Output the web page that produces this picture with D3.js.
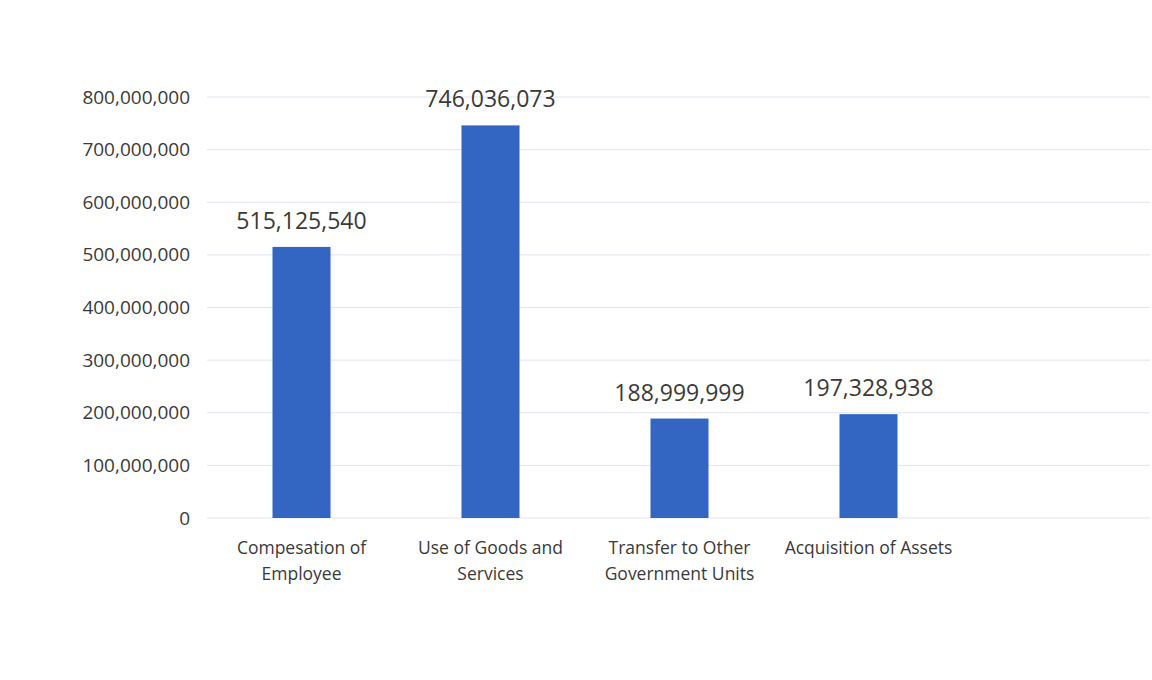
<!DOCTYPE html>
<html>
<head>
<meta charset="utf-8">
<script src="https://cdn.jsdelivr.net/npm/d3@7"></script>
<style>
  body { margin: 0; background: #fff; }
  text { font-family: "Open Sans", sans-serif; fill: #3a3a3a; }
</style>
</head>
<body>
<script>
// chart data
var categories = [
    ["Compesation of", "Employee"],
    ["Use of Goods and", "Services"],
    ["Transfer to Other", "Government Units"],
    ["Acquisition of Assets"]
];
var values = [515125540, 746036073, 188999999, 197328938];
var yTicks = [0, 100000000, 200000000, 300000000, 400000000, 500000000, 600000000, 700000000, 800000000];

var W = 1152, H = 680;
var svg = d3.select('body').append('svg')
    .attr('width', W)
    .attr('height', H);

var plotLeft = 207, plotBottom = 518, plotTop = 97;

var keys = categories.map(function (c, i) { return 'c' + i; });
var x = d3.scaleBand()
    .domain(keys)
    .range([plotLeft, plotLeft + 189 * keys.length])
    .paddingInner(0.693)
    .paddingOuter(0.3465);

var y = d3.scaleLinear()
    .domain([0, 800000000])
    .range([plotBottom, plotTop]);

var fmt = d3.format(',');

// gridlines
svg.append('g').selectAll('line')
    .data(yTicks)
    .enter()
    .append('line')
    .attr('x1', plotLeft)
    .attr('x2', 1150)
    .attr('y1', function (d) { return y(d); })
    .attr('y2', function (d) { return y(d); })
    .attr('stroke', '#e3e3ee')
    .attr('stroke-width', 1);

// y axis labels
var yAxis = d3.axisLeft(y).tickValues(yTicks).tickFormat(fmt).tickSize(0).tickPadding(0);
var ag = svg.append('g')
    .attr('transform', 'translate(190,0)')
    .call(yAxis);
ag.select('.domain').remove();
ag.selectAll('text')
    .attr('font-size', '19px')
    .attr('font-family', '"Open Sans", sans-serif')
    .attr('fill', '#383838');

// bars
svg.append('g').selectAll('rect')
    .data(values)
    .enter()
    .append('rect')
    .attr('x', function (d, i) { return x(keys[i]); })
    .attr('y', function (d) { return y(d); })
    .attr('width', x.bandwidth())
    .attr('height', function (d) { return plotBottom - y(d); })
    .attr('fill', '#3366c2');

// value labels
svg.append('g').selectAll('text')
    .data(values)
    .enter()
    .append('text')
    .attr('x', function (d, i) { return x(keys[i]) + x.bandwidth() / 2; })
    .attr('y', function (d) { return y(d) - 18; })
    .attr('text-anchor', 'middle')
    .attr('font-size', '23px')
    .attr('fill', '#1f1f1f')
    .text(function (d) { return fmt(d); });

// category labels
var cg = svg.append('g').selectAll('text')
    .data(categories)
    .enter()
    .append('text')
    .attr('x', function (d, i) { return x(keys[i]) + x.bandwidth() / 2; })
    .attr('y', 554)
    .attr('text-anchor', 'middle')
    .attr('font-size', '17.5px');
cg.selectAll('tspan')
    .data(function (d) { return d; })
    .enter()
    .append('tspan')
    .attr('x', function () { return d3.select(this.parentNode).attr('x'); })
    .attr('dy', function (d, j) { return j === 0 ? 0 : 26; })
    .text(function (d) { return d; });
</script>
</body>
</html>
